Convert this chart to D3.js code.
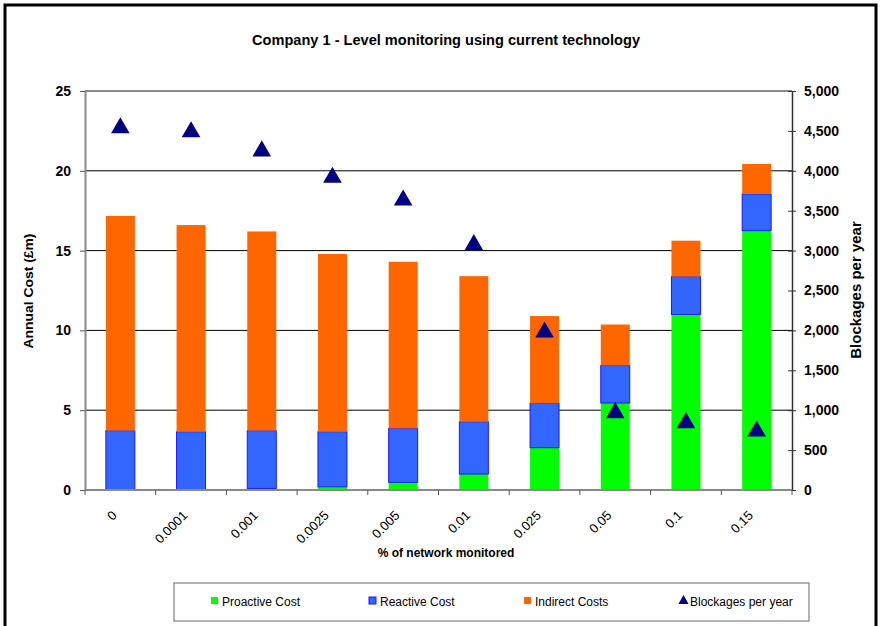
<!DOCTYPE html>
<html>
<head>
<meta charset="utf-8">
<script src="https://cdnjs.cloudflare.com/ajax/libs/d3/7.8.5/d3.min.js"></script>
<style>
  html, body { margin: 0; padding: 0; background: #fff; }
  svg { display: block; font-family: "Liberation Sans", Arial, sans-serif; }
</style>
</head>
<body>
<svg id="chart" width="881" height="626"></svg>
<script>
// Share of network monitored (x categories)
const categories = ["0", "0.0001", "0.001", "0.0025", "0.005", "0.01", "0.025", "0.05", "0.1", "0.15"];
// Annual cost components, £m
const proactiveCost = [0, 0, 0.1, 0.2, 0.48, 1.0, 2.65, 5.45, 11.0, 16.25];
const reactiveCost  = [3.72, 3.65, 3.62, 3.45, 3.38, 3.28, 2.78, 2.35, 2.37, 2.3];
const indirectCosts = [13.45, 12.95, 12.48, 11.14, 10.44, 9.12, 5.47, 2.57, 2.25, 1.88];
// Blockages per year (secondary axis)
const blockages = [4550, 4500, 4260, 3930, 3645, 3085, 1990, 980, 855, 750];

const costTicks = [0, 5, 10, 15, 20, 25];
const blockageTicks = [0, 500, 1000, 1500, 2000, 2500, 3000, 3500, 4000, 4500, 5000];

const seriesNames = ["Proactive Cost", "Reactive Cost", "Indirect Costs"];
const seriesColors = ["#00ff00", "#3366ff", "#ff6600"];
const seriesStrokes = ["none", "#1a1aff", "none"];
const markerColor = "#000080";

const svg = d3.select("#chart");
const plot = { left: 85, right: 792, top: 91, bottom: 490 };

// Outer frame
svg.append("rect")
  .attr("x", 5).attr("y", 5).attr("width", 871).attr("height", 640)
  .attr("fill", "none").attr("stroke", "#000").attr("stroke-width", 3);

// Title
svg.append("text")
  .attr("x", 446).attr("y", 45)
  .attr("text-anchor", "middle")
  .attr("font-size", 14).attr("font-weight", "bold")
  .attr("textLength", 388).attr("lengthAdjust", "spacingAndGlyphs")
  .text("Company 1 - Level monitoring using current technology");

const x = d3.scaleBand().domain(categories)
  .range([plot.left, plot.right]).paddingInner(0.59).paddingOuter(0.295);
const y = d3.scaleLinear().domain([0, 25]).range([plot.bottom, plot.top]);
const y2 = d3.scaleLinear().domain([0, 5000]).range([plot.bottom, plot.top]);

// Gridlines
svg.append("g").selectAll("line")
  .data(costTicks.filter(t => t > 0 && t < 25))
  .join("line")
  .attr("x1", plot.left).attr("x2", plot.right)
  .attr("y1", d => y(d)).attr("y2", d => y(d))
  .attr("stroke", "#000").attr("stroke-width", 1);

// Top border of plot area
svg.append("line")
  .attr("x1", plot.left).attr("x2", plot.right)
  .attr("y1", y(25)).attr("y2", y(25))
  .attr("stroke", "#8a8a8a").attr("stroke-width", 2);

// Stacked bars
const rows = categories.map((c, i) => ({
  cat: c, p0: proactiveCost[i], p1: reactiveCost[i], p2: indirectCosts[i]
}));
const stack = d3.stack().keys(["p0", "p1", "p2"])(rows);

stack.forEach((layer, li) => {
  svg.append("g").selectAll("rect")
    .data(layer.filter(d => d[1] - d[0] > 0))
    .join("rect")
    .attr("x", d => x(d.data.cat))
    .attr("width", x.bandwidth())
    .attr("y", d => y(d[1]))
    .attr("height", d => y(d[0]) - y(d[1]))
    .attr("fill", seriesColors[li])
    .attr("stroke", seriesStrokes[li])
    .attr("stroke-width", 1);
});

// Blockage markers
const tri = d3.symbol().type(d3.symbolTriangle).size(150);
svg.append("g").selectAll("path")
  .data(blockages)
  .join("path")
  .attr("transform", (d, i) => `translate(${x(categories[i]) + x.bandwidth() / 2},${y2(d) + 1})`)
  .attr("d", tri)
  .attr("fill", markerColor);

// Left axis
const leftAxis = svg.append("g")
  .attr("transform", `translate(${plot.left},0)`)
  .call(d3.axisLeft(y).tickValues(costTicks).tickSize(5).tickSizeOuter(0).tickPadding(9));
leftAxis.select(".domain").attr("stroke", "#8a8a8a").attr("stroke-width", 2);
leftAxis.selectAll(".tick line").attr("stroke", "#555");
leftAxis.selectAll("text").attr("font-size", 14).attr("font-weight", "bold")
  .attr("font-family", "Liberation Sans, Arial, sans-serif").attr("fill", "#000");

// Right axis
const rightAxis = svg.append("g")
  .attr("transform", `translate(${plot.right},0)`)
  .call(d3.axisRight(y2).tickValues(blockageTicks).tickFormat(d3.format(",")).tickSize(4).tickSizeOuter(0).tickPadding(8));
rightAxis.select(".domain").attr("stroke", "#333").attr("stroke-width", 1.5);
rightAxis.selectAll(".tick line").attr("x1", -4).attr("stroke", "#333");
rightAxis.selectAll("text").attr("font-size", 14).attr("font-weight", "bold")
  .attr("font-family", "Liberation Sans, Arial, sans-serif").attr("fill", "#000");

// Bottom axis with ticks between categories
const bottom = svg.append("g");
bottom.append("line")
  .attr("x1", plot.left).attr("x2", plot.right)
  .attr("y1", plot.bottom).attr("y2", plot.bottom)
  .attr("stroke", "#8a8a8a").attr("stroke-width", 2);
bottom.selectAll("line.tk")
  .data(d3.range(categories.length + 1))
  .join("line").attr("class", "tk")
  .attr("x1", i => plot.left + i * x.step()).attr("x2", i => plot.left + i * x.step())
  .attr("y1", plot.bottom).attr("y2", plot.bottom + 5)
  .attr("stroke", "#555");
bottom.selectAll("text")
  .data(categories)
  .join("text")
  .attr("transform", d => `translate(${x(d) + x.bandwidth() / 2 - 6},${plot.bottom + 23}) rotate(-45)`)
  .attr("text-anchor", "end")
  .attr("dy", "0.35em")
  .attr("font-size", 13)
  .text(d => d);

// Axis titles
svg.append("text")
  .attr("x", 446).attr("y", 557)
  .attr("text-anchor", "middle").attr("font-size", 12).attr("font-weight", "bold")
  .text("% of network monitored");
svg.append("text")
  .attr("transform", "translate(33,291) rotate(-90)")
  .attr("text-anchor", "middle").attr("font-size", 13).attr("font-weight", "bold")
  .attr("textLength", 115).attr("lengthAdjust", "spacingAndGlyphs")
  .text("Annual Cost (£m)");
svg.append("text")
  .attr("transform", "translate(861,290) rotate(-90)")
  .attr("text-anchor", "middle").attr("font-size", 15).attr("font-weight", "bold")
  .text("Blockages per year");

// Legend
const legend = svg.append("g");
legend.append("rect")
  .attr("x", 174).attr("y", 583).attr("width", 635).attr("height", 38)
  .attr("fill", "#fff").attr("stroke", "#666").attr("stroke-width", 1);
const legendX = [211, 369, 524, 679];
seriesNames.forEach((name, i) => {
  legend.append("rect")
    .attr("x", legendX[i]).attr("y", 597).attr("width", 7).attr("height", 7)
    .attr("fill", seriesColors[i]).attr("stroke", seriesStrokes[i] === "none" ? "none" : seriesStrokes[i]);
  legend.append("text")
    .attr("x", legendX[i] + 11).attr("y", 606)
    .attr("font-size", 12).text(name);
});
legend.append("path")
  .attr("transform", `translate(${legendX[3] + 4.5},601)`)
  .attr("d", d3.symbol().type(d3.symbolTriangle).size(45))
  .attr("fill", markerColor);
legend.append("text")
  .attr("x", legendX[3] + 11).attr("y", 606)
  .attr("font-size", 12).text("Blockages per year");
</script>
</body>
</html>
